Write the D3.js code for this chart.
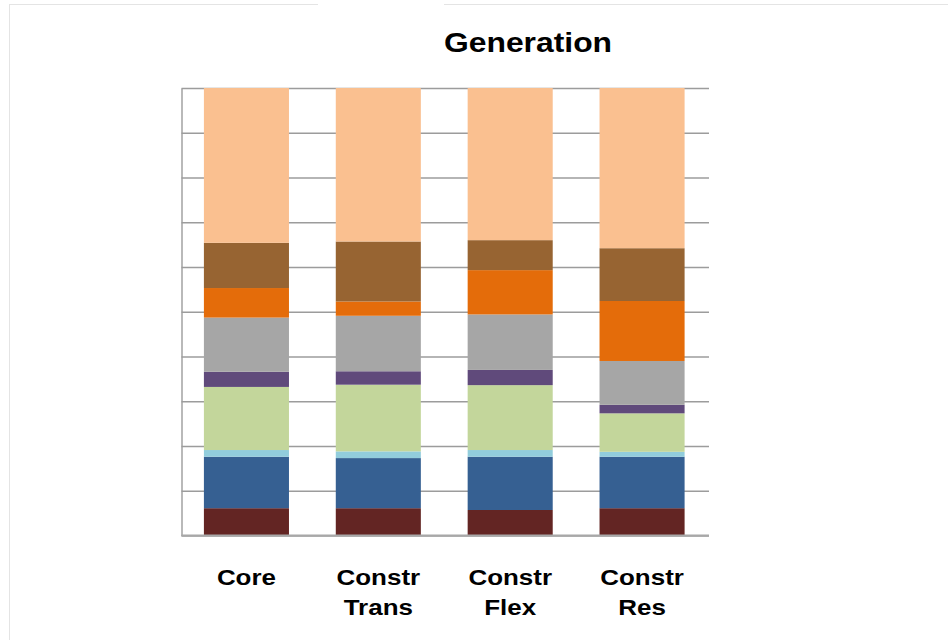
<!DOCTYPE html>
<html>
<head>
<meta charset="utf-8">
<script src="https://cdn.jsdelivr.net/npm/d3@7"></script>
<style>
  html, body { margin: 0; padding: 0; background: #ffffff; }
  svg { display: block; }
  text { font-family: "Liberation Sans", Arial, sans-serif; font-weight: bold; fill: #000; }
</style>
</head>
<body>
<script>
// Stacked generation shares (percent of total) per scenario, bottom segment first.
const categories = ["Core", "Constr Trans", "Constr Flex", "Constr Res"];
const seriesKeys = ["s1", "s2", "s3", "s4", "s5", "s6", "s7", "s8", "s9"];
const s1 = [6.1, 6.1, 5.7, 6.1];
const s2 = [11.5, 11.2, 11.9, 11.5];
const s3 = [1.5, 1.5, 1.5, 1.1];
const s4 = [14.1, 14.9, 14.5, 8.6];
const s5 = [3.4, 3.0, 3.4, 1.9];
const s6 = [12.1, 12.4, 12.4, 9.8];
const s7 = [6.6, 3.2, 9.9, 13.4];
const s8 = [10.1, 13.4, 6.7, 11.8];
const s9 = [34.6, 34.3, 34.0, 35.8];
const seriesValues = [s1, s2, s3, s4, s5, s6, s7, s8, s9];
const seriesColors = ["#632523", "#366092", "#92CDDC", "#C3D69B", "#604A7B",
                      "#A6A6A6", "#E46C0A", "#976432", "#FAC090"];
const yTicks = [0, 10, 20, 30, 40, 50, 60, 70, 80, 90, 100];
const titleText = "Generation";

const W = 948, H = 640;
const plot = { left: 181.5, right: 709, top: 88, bottom: 535.5 };

const svg = d3.select("body").append("svg")
  .attr("width", W).attr("height", H);

// faint outer frame
const frame = svg.append("g").attr("stroke", "#e4e4e4").attr("stroke-width", 1);
frame.append("line").attr("x1", 9).attr("x2", 318).attr("y1", 4.5).attr("y2", 4.5);
frame.append("line").attr("x1", 444).attr("x2", W).attr("y1", 4.5).attr("y2", 4.5);
frame.append("line").attr("x1", 9.5).attr("x2", 9.5).attr("y1", 4.5).attr("y2", H);

const table = categories.map((c, i) => {
  const row = { category: c };
  seriesKeys.forEach((k, j) => { row[k] = seriesValues[j][i]; });
  return row;
});

const x = d3.scaleBand()
  .domain(categories)
  .range([plot.left, plot.right])
  .paddingInner(0.355)
  .paddingOuter(0.1775);

const y = d3.scaleLinear()
  .domain([0, 100])
  .range([plot.bottom, plot.top]);

const color = d3.scaleOrdinal().domain(seriesKeys).range(seriesColors);

// horizontal gridlines via the y axis
const yAxis = d3.axisLeft(y)
  .tickValues(yTicks)
  .tickSize(-(plot.right - plot.left))
  .tickSizeOuter(0)
  .tickFormat("");
const gy = svg.append("g")
  .attr("transform", `translate(${plot.left},0)`)
  .call(yAxis);
gy.selectAll(".tick line").attr("stroke", "#9c9c9c").attr("stroke-width", 1.6);
gy.select(".domain").attr("stroke", "#a8a8a8").attr("stroke-width", 1.6);

// stacked bars
const stack = d3.stack().keys(seriesKeys);
const layers = stack(table);

svg.append("g")
  .selectAll("g")
  .data(layers)
  .join("g")
  .attr("fill", d => color(d.key))
  .selectAll("rect")
  .data(d => d)
  .join("rect")
  .attr("x", d => x(d.data.category) - 1)
  .attr("width", x.bandwidth())
  .attr("y", d => y(d[1]))
  .attr("height", d => y(d[0]) - y(d[1]));

// bottom axis line
svg.append("line")
  .attr("x1", plot.left).attr("x2", plot.right)
  .attr("y1", plot.bottom).attr("y2", plot.bottom)
  .attr("stroke", "#a8a8a8").attr("stroke-width", 2);

// category labels (wrapped onto two lines)
const stretch = 1.18;
const labels = svg.append("g");
categories.forEach(c => {
  const words = c.split(" ");
  const cx = x(c) + x.bandwidth() / 2 - 1;
  const t = labels.append("text")
    .attr("text-anchor", "middle")
    .attr("font-size", 22)
    .attr("transform", `translate(${cx},585) scale(${stretch},1)`);
  words.forEach((w, i) => {
    t.append("tspan").attr("x", 0).attr("y", i * 30).text(w);
  });
});

// title
svg.append("text")
  .attr("text-anchor", "middle")
  .attr("font-size", 27)
  .attr("transform", `translate(528,52) scale(${stretch},1)`)
  .text(titleText);
</script>
</body>
</html>
